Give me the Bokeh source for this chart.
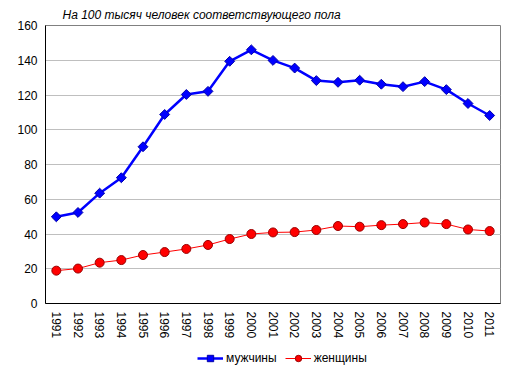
import math
from bokeh.plotting import figure
from bokeh.layouts import column
from bokeh.models import Legend, LegendItem, FixedTicker, Range1d
from bokeh.embed import file_html
from bokeh.resources import INLINE

years = [str(y) for y in range(1991, 2012)]
men = [49.9, 52.4, 63.5, 72.4, 90.2, 108.8, 120.3, 122.1, 139.4, 146.0,
       139.9, 135.5, 128.3, 127.3, 128.5, 126.2, 124.8, 127.7, 123.1, 115.1, 108.2]
women = [18.9, 20.1, 23.5, 25.0, 27.9, 29.6, 31.4, 33.7, 37.1, 40.0,
         40.9, 41.1, 42.3, 44.6, 44.2, 45.1, 45.7, 46.6, 45.7, 42.6, 41.7]
y_ticks = [0, 20, 40, 60, 80, 100, 120, 140, 160]
title_text = "На 100 тысяч человек соответствующего пола"
label_men = "мужчины"
label_women = "женщины"

FONT = "Liberation Sans"

MEN_STYLE = dict(line_color="#0000ff", line_width=2.5)
MEN_MARK = dict(marker="square", angle=math.pi / 4, size=7, fill_color="#0000ff", line_color="#0000aa", line_width=1)
WOMEN_STYLE = dict(line_color="#ff0000", line_width=1)
WOMEN_MARK = dict(marker="circle", size=9, fill_color="#ff0000", line_color="#990000", line_width=1)

p = figure(frame_width=455, frame_height=278, x_range=years, y_range=Range1d(0, 160),
           output_backend="svg", toolbar_location=None,
           min_border_left=45, min_border_right=10, min_border_top=25, min_border_bottom=40)

p.title.text = title_text
p.title.text_font = FONT
p.title.text_font_size = "12px"
p.title.text_font_style = "italic"
p.title.text_color = "black"
p.title.align = "left"
p.title.offset = 17
p.title.standoff = 8

p.outline_line_color = "#808080"
p.outline_line_width = 1
p.background_fill_color = "white"
p.border_fill_color = "white"

p.xgrid.grid_line_color = None
p.ygrid.grid_line_color = "#bfbfbf"
p.ygrid.ticker = FixedTicker(ticks=y_ticks)

p.yaxis.ticker = FixedTicker(ticks=y_ticks)
p.yaxis.major_tick_out = 0
p.yaxis.major_tick_in = 0
p.yaxis.minor_tick_out = 0
p.yaxis.minor_tick_in = 0
p.yaxis.axis_line_color = "black"
p.yaxis.major_label_text_font = FONT
p.yaxis.major_label_text_font_size = "12px"
p.yaxis.major_label_text_color = "black"
p.yaxis.major_label_standoff = 8

p.xaxis.major_tick_out = 0
p.xaxis.major_tick_in = 0
p.xaxis.axis_line_color = "black"
p.xaxis.major_label_orientation = "vertical"
p.xaxis.major_label_text_font = FONT
p.xaxis.major_label_text_font_size = "12px"
p.xaxis.major_label_text_color = "black"
p.xaxis.major_label_standoff = 8

p.line(years, men, **MEN_STYLE)
p.scatter(years, men, **MEN_MARK)
p.line(years, women, **WOMEN_STYLE)
p.scatter(years, women, **WOMEN_MARK)

# legend strip below the chart (its glyphs lie outside its visible range)
q = figure(frame_width=510, frame_height=30, x_range=years, y_range=Range1d(1000, 1001),
           output_backend="svg", toolbar_location=None,
           x_axis_location=None, y_axis_location=None,
           min_border_left=0, min_border_right=0, min_border_top=0, min_border_bottom=0)
q.outline_line_color = None
q.xgrid.grid_line_color = None
q.ygrid.grid_line_color = None
q.background_fill_color = "white"
q.border_fill_color = "white"

l1 = q.line(years, men, **MEN_STYLE)
s1 = q.scatter(years, men, **MEN_MARK)
l2 = q.line(years, women, **WOMEN_STYLE)
s2 = q.scatter(years, women, **WOMEN_MARK)

legend = Legend(items=[LegendItem(label=label_men, renderers=[l1, s1]),
                       LegendItem(label=label_women, renderers=[l2, s2])],
                orientation="horizontal", location=(197, 7),
                border_line_color=None, background_fill_alpha=0,
                label_text_font=FONT, label_text_font_size="12px", label_text_color="black",
                label_standoff=3, glyph_width=26, glyph_height=16, label_height=16,
                spacing=8, padding=0, margin=0)
q.add_layout(legend, "center")

layout = column(p, q, spacing=0)
open("out.html", "w").write(file_html(layout, INLINE))
